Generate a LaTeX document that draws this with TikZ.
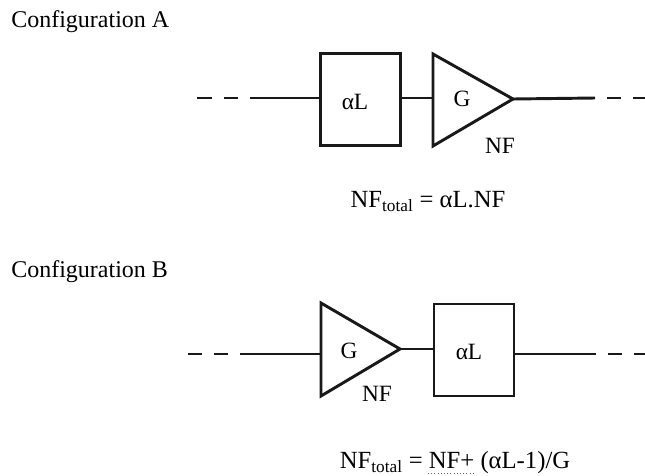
\documentclass[tikz,border=0pt]{standalone}
\usepackage{fontspec}
\setmainfont{Liberation Serif}
\usepackage{tikz}
\tikzset{
  wire/.style={line width=2.2pt, color=black!90},
  block/.style={draw, line width=2.2pt, color=black!90, text=black, minimum width=60pt, minimum height=69pt, inner sep=0pt},
  amp/.style={draw, line width=2.2pt, color=black!90, line join=miter},
  caption/.style={font=\fontsize{18}{20}\selectfont, inner sep=0pt, anchor=base west},
  formula/.style={font=\fontsize{18.5}{20}\selectfont, inner sep=0pt, anchor=base},
  label/.style={font=\fontsize{17.5}{20}\selectfont, inner sep=0pt, anchor=base}
}
\begin{document}
\begin{tikzpicture}[x=0.75pt,y=-0.75pt]
\useasboundingbox (0,0) rectangle (645,475);

% configuration A
\node[caption] (title a) at (11,27) {Configuration A};
\node[block] (loss a) at (360.5,99.5) {};
\coordinate (top a) at (433,54);
\coordinate (bot a) at (433,146);
\coordinate (tip a) at (513,99);
\coordinate (in a) at (433,98);
\draw[amp] (top a) -- (tip a) -- (bot a) -- cycle;
\node[label] (alpha a) at (355,109) {αL};
\node[label] (gain a) at (462,106) {G};
\node[label] (nf a) at (500,153) {NF};
\node[formula] (total a) at (428,207) {NF\textsubscript{total} = αL.NF};

% wires A
\coordinate (d1 a) at (197,98);
\coordinate (d2 a) at (212,98);
\coordinate (d3 a) at (224,98);
\coordinate (d4 a) at (238,98);
\coordinate (d5 a) at (250,98);
\coordinate (d6 a) at (595,98);
\coordinate (d7 a) at (607,98);
\coordinate (d8 a) at (621,98);
\coordinate (d9 a) at (633,98);
\coordinate (d10 a) at (645,98);
\draw[wire] (d1 a) -- (d2 a);
\draw[wire] (d3 a) -- (d4 a);
\draw[wire] (d5 a) -- (loss a.west |- d5 a);
\draw[wire] (loss a.east |- in a) -- (in a);
\draw[wire] (tip a) -- (d6 a);
\draw[wire] (d7 a) -- (d8 a);
\draw[wire] (d9 a) -- (d10 a);

% configuration B
\node[caption] (title b) at (11,277) {Configuration B};
\node[block] (loss b) at (474,350) {};
\coordinate (top b) at (321,303);
\coordinate (bot b) at (321,396);
\coordinate (tip b) at (400,349);
\coordinate (in b) at (321,354);
\draw[amp] (top b) -- (tip b) -- (bot b) -- cycle;
\node[label] (gain b) at (349,358) {G};
\node[label] (alpha b) at (469,359) {αL};
\node[label] (nf b) at (377,401) {NF};
\node[formula] (total b) at (455,468) {NF\textsubscript{total} = NF+ (αL-1)/G};

% wires B
\coordinate (d1 b) at (188,354);
\coordinate (d2 b) at (202,354);
\coordinate (d3 b) at (214,354);
\coordinate (d4 b) at (228,354);
\coordinate (d5 b) at (240,354);
\coordinate (d6 b) at (596,354);
\coordinate (d7 b) at (608,354);
\coordinate (d8 b) at (622,354);
\coordinate (d9 b) at (634,354);
\coordinate (d10 b) at (645,354);
\draw[wire] (d1 b) -- (d2 b);
\draw[wire] (d3 b) -- (d4 b);
\draw[wire] (d5 b) -- (in b);
\draw[wire] (tip b) -- (loss b.west |- tip b);
\draw[wire] (loss b.east |- d6 b) -- (d6 b);
\draw[wire] (d7 b) -- (d8 b);
\draw[wire] (d9 b) -- (d10 b);

% underline
\draw[dotted, color=black!60] (428,473) -- (473,473);
\end{tikzpicture}
\end{document}
